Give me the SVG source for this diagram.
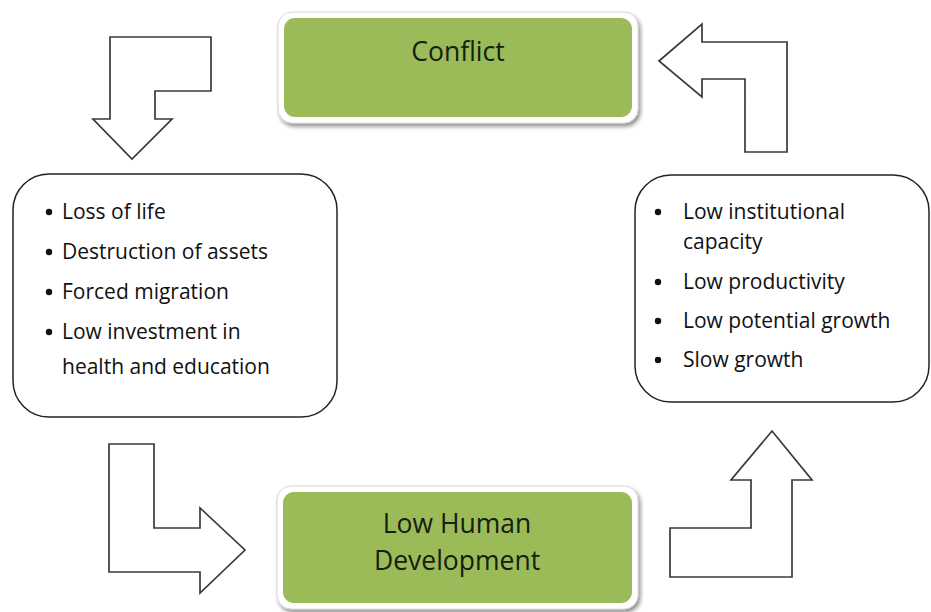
<svg xmlns="http://www.w3.org/2000/svg" width="931" height="612" viewBox="0 0 931 612">
<defs>
<filter id="sh" x="-10%" y="-10%" width="130%" height="140%">
<feGaussianBlur in="SourceAlpha" stdDeviation="2"/>
<feOffset dx="2" dy="3" result="b"/>
<feComponentTransfer><feFuncA type="linear" slope="0.45"/></feComponentTransfer>
<feMerge><feMergeNode/><feMergeNode in="SourceGraphic"/></feMerge>
</filter>
</defs>
<style>
.frame{fill:#ffffff;stroke:#d6d6d6;stroke-width:1}
.green{fill:#9bbb59}
.title{font-family:"Open Sans","Liberation Sans",sans-serif;font-size:26.5px;fill:#142010;text-anchor:middle}
.box{fill:#ffffff;stroke:#222222;stroke-width:1.5}
.item{font-family:"Open Sans","Liberation Sans",sans-serif;font-size:21px;fill:#111111}
.bul{fill:#111111}
.arrow{fill:#ffffff;stroke:#3a3a3a;stroke-width:1.7;stroke-linejoin:miter}
</style>
<rect width="931" height="612" fill="#ffffff"/>

<g id="conflict">
<rect class="frame" x="278" y="12" width="360" height="111" rx="14" filter="url(#sh)"/>
<rect class="green" x="284" y="18" width="348" height="99" rx="11"/>
<text class="title" x="458" y="61">Conflict</text>
</g>

<g id="low-human-development">
<rect class="frame" x="277" y="486" width="361" height="123" rx="14" filter="url(#sh)"/>
<rect class="green" x="283" y="492" width="349" height="111" rx="11"/>
<text class="title" x="457" y="533">Low Human</text>
<text class="title" x="457" y="570">Development</text>
</g>

<g id="consequences">
<rect class="box" x="13" y="174" width="324" height="243" rx="36"/>
<circle class="bul" cx="49" cy="212" r="3.2"/>
<text class="item" x="62" y="219">Loss of life</text>
<circle class="bul" cx="49" cy="252" r="3.2"/>
<text class="item" x="62" y="259">Destruction of assets</text>
<circle class="bul" cx="49" cy="292" r="3.2"/>
<text class="item" x="62" y="299">Forced migration</text>
<circle class="bul" cx="49" cy="332" r="3.2"/>
<text class="item" x="62" y="339">Low investment in</text>
<text class="item" x="62" y="374">health and education</text>
</g>

<g id="effects">
<rect class="box" x="635" y="175" width="294" height="227" rx="36"/>
<circle class="bul" cx="658" cy="212" r="3.2"/>
<text class="item" x="683" y="219">Low institutional</text>
<text class="item" x="683" y="249">capacity</text>
<circle class="bul" cx="658" cy="282" r="3.2"/>
<text class="item" x="683" y="289">Low productivity</text>
<circle class="bul" cx="658" cy="321" r="3.2"/>
<text class="item" x="683" y="328">Low potential growth</text>
<circle class="bul" cx="658" cy="360" r="3.2"/>
<text class="item" x="683" y="367">Slow growth</text>
</g>

<g id="connectors">
<polygon class="arrow" points="110,37 211,37 211,91 155,91 155,119 172,119 132,159 93,119 110,119"/>
<polygon class="arrow" points="109,444 154,444 154,528 200,528 200,508 245,550 200,593 200,572 109,572"/>
<polygon class="arrow" points="670,528 751,528 751,480 731,480 772,431 812,480 792,480 792,577 670,577"/>
<polygon class="arrow" points="659,61 702,24 702,42 787,42 787,152 745,152 745,79 702,79 702,97"/>
</g>
</svg>
